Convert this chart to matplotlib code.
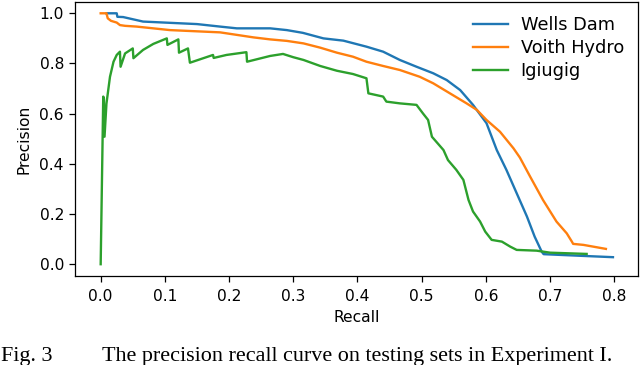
import matplotlib
matplotlib.use("Agg")
import matplotlib.pyplot as plt

# ---- data ----
rec_wells = [0.009, 0.025, 0.026, 0.035, 0.066, 0.108, 0.15, 0.186, 0.212, 0.264, 0.29,
             0.315, 0.347, 0.378, 0.414, 0.44, 0.466, 0.492, 0.518, 0.539, 0.56, 0.58,
             0.601, 0.617, 0.632, 0.648, 0.664, 0.676, 0.687, 0.69, 0.752, 0.798]
prec_wells = [1.0, 1.0, 0.986, 0.985, 0.967, 0.962, 0.957, 0.947, 0.94, 0.94, 0.933,
              0.922, 0.9, 0.891, 0.867, 0.847, 0.814, 0.787, 0.761, 0.734, 0.694, 0.635,
              0.562, 0.455, 0.376, 0.283, 0.19, 0.11, 0.05, 0.04, 0.033, 0.028]

rec_voith = [0.0, 0.009, 0.011, 0.016, 0.025, 0.03, 0.038, 0.056, 0.082, 0.108, 0.134,
             0.16, 0.186, 0.212, 0.238, 0.264, 0.29, 0.316, 0.342, 0.368, 0.393, 0.414,
             0.44, 0.466, 0.497, 0.518, 0.544, 0.57, 0.586, 0.601, 0.622, 0.643, 0.653,
             0.669, 0.689, 0.71, 0.726, 0.734, 0.736, 0.752, 0.787]
prec_voith = [1.0, 1.0, 0.98, 0.97, 0.963, 0.953, 0.95, 0.947, 0.94, 0.933, 0.93,
              0.927, 0.924, 0.914, 0.904, 0.896, 0.89, 0.88, 0.863, 0.843, 0.827, 0.807,
              0.79, 0.774, 0.747, 0.721, 0.681, 0.641, 0.615, 0.575, 0.528, 0.462, 0.425,
              0.349, 0.256, 0.17, 0.123, 0.09, 0.081, 0.077, 0.061]

rec_igiugig = [0.0, 0.004, 0.005, 0.006, 0.009, 0.0145, 0.02, 0.025, 0.03, 0.031, 0.038,
               0.05, 0.051, 0.066, 0.082, 0.103, 0.104, 0.121, 0.122, 0.136, 0.139, 0.175,
               0.176, 0.196, 0.227, 0.228, 0.264, 0.284, 0.3, 0.316, 0.342, 0.368, 0.393,
               0.414, 0.417, 0.44, 0.445, 0.466, 0.492, 0.502, 0.51, 0.516, 0.534, 0.541,
               0.554, 0.565, 0.573, 0.58, 0.591, 0.599, 0.609, 0.625, 0.638, 0.648, 0.679,
               0.7, 0.757]
prec_igiugig = [0.0, 0.668, 0.66, 0.508, 0.64, 0.747, 0.807, 0.834, 0.847, 0.787, 0.84,
                0.86, 0.821, 0.854, 0.878, 0.9, 0.874, 0.896, 0.843, 0.86, 0.803, 0.834,
                0.822, 0.834, 0.845, 0.807, 0.83, 0.838, 0.825, 0.814, 0.79, 0.771, 0.758,
                0.741, 0.681, 0.668, 0.648, 0.641, 0.635, 0.601, 0.575, 0.508, 0.455, 0.415,
                0.376, 0.336, 0.256, 0.21, 0.17, 0.13, 0.097, 0.09, 0.07, 0.057, 0.054,
                0.046, 0.041]

series_names = ["Wells Dam", "Voith Hydro", "Igiugig"]
x_label = "Recall"
y_label = "Precision"
caption_fig = "Fig. 3"
caption_text = "The precision recall curve on testing sets in Experiment I."

# ---- figure ----
fig = plt.figure(figsize=(6.4, 3.65), dpi=100)
ax = fig.add_axes([75 / 640, 1 - 276 / 365, (638 - 75) / 640, (276 - 2) / 365])

lw = 1.7
ax.plot(rec_wells, prec_wells, color="#1f77b4", lw=lw, label=series_names[0])
ax.plot(rec_voith, prec_voith, color="#ff7f0e", lw=lw, label=series_names[1])
ax.plot(rec_igiugig, prec_igiugig, color="#2ca02c", lw=lw, label=series_names[2])

ax.set_xlim(-0.04, 0.837)
ax.set_ylim(-0.047, 1.045)
ax.set_xticks([0.0, 0.1, 0.2, 0.3, 0.4, 0.5, 0.6, 0.7, 0.8])
ax.set_yticks([0.0, 0.2, 0.4, 0.6, 0.8, 1.0])
ax.tick_params(labelsize=11.2, length=4.0, width=0.9)
ax.tick_params(axis="x", pad=5.5)
ax.tick_params(axis="y", pad=4.0)
for s in ax.spines.values():
    s.set_linewidth(0.9)
ax.set_xlabel(x_label, fontsize=11.2, labelpad=4)
ax.set_ylabel(y_label, fontsize=11.2, labelpad=6)

ax.legend(loc="upper right", frameon=False, fontsize=12.8, labelspacing=0.28,
          borderaxespad=0.4, handletextpad=0.7)

fig.text(1 / 640, 4 / 365, caption_fig, family="Liberation Serif", fontsize=15.9,
         ha="left", va="baseline")
fig.text(102 / 640, 4 / 365, caption_text, family="Liberation Serif", fontsize=15.9,
         ha="left", va="baseline")

fig.savefig("out.png", dpi=100)
